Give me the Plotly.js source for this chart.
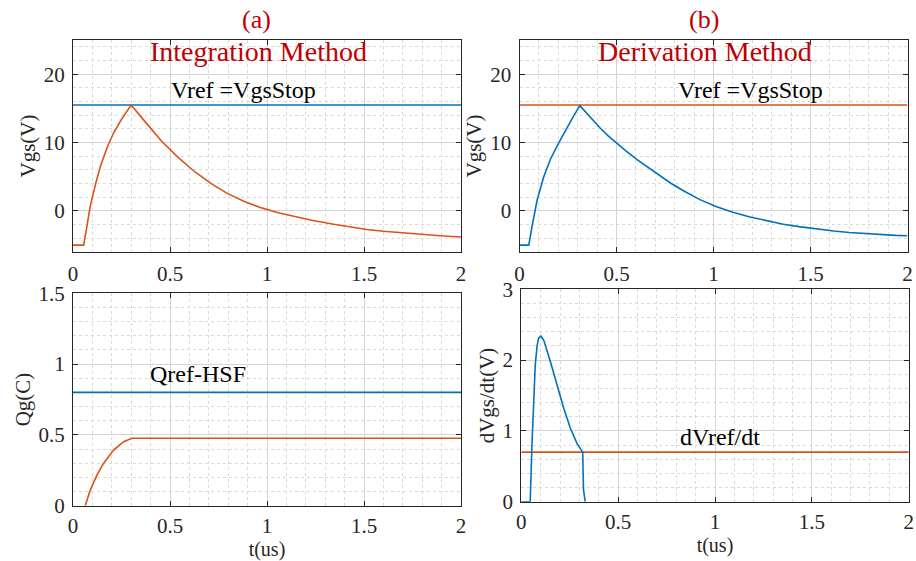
<!DOCTYPE html>
<html>
<head>
<meta charset="utf-8">
<script src="https://cdn.plot.ly/plotly-3.0.1.min.js"></script>
<style>html,body{margin:0;padding:0;background:#fff;}#chart{width:916px;height:561px;}</style>
</head>
<body>
<div id="chart"></div>
<script>
// ---- Data ----
// (a) Integration method: Vgs vs t
const tIntVgs = [0, 0.055, 0.069, 0.089, 0.115, 0.141, 0.175, 0.209, 0.252, 0.30, 0.37, 0.457, 0.543, 0.629, 0.714, 0.80, 0.886, 0.972, 1.058, 1.144, 1.23, 1.343, 1.43, 1.515, 1.60, 1.687, 1.773, 1.859, 1.93, 2.0];
const vIntVgs = [-5, -5, -2.7, 0.7, 3.8, 6.5, 9.2, 11.4, 13.5, 15.5, 13.1, 10.2, 7.8, 5.7, 3.95, 2.5, 1.35, 0.45, -0.25, -0.85, -1.35, -1.95, -2.35, -2.7, -2.97, -3.2, -3.4, -3.56, -3.69, -3.8];
// (b) Derivation method: Vgs vs t
const tDerVgs = [0, 0.048, 0.065, 0.091, 0.125, 0.16, 0.203, 0.246, 0.28, 0.311, 0.36, 0.417, 0.46, 0.503, 0.55, 0.606, 0.66, 0.709, 0.78, 0.845, 0.93, 1.016, 1.10, 1.188, 1.27, 1.36, 1.45, 1.53, 1.62, 1.70, 1.79, 1.87, 1.94, 2.0];
const vDerVgs = [-5, -5, -2.2, 1.6, 5.0, 7.6, 10.0, 12.25, 13.95, 15.4, 13.8, 12.1, 10.9, 9.85, 8.75, 7.5, 6.4, 5.45, 4.05, 2.95, 1.66, 0.63, -0.19, -0.89, -1.43, -1.93, -2.33, -2.63, -2.92, -3.14, -3.34, -3.48, -3.57, -3.63];
// Reference levels
const tRef = [0, 2];
const vRefStop = [15.5, 15.5];
const qRefHSF = [0.8, 0.8];
const dvRef = [0.7, 0.7];
// (a) gate charge Qg
const tQg = [0.063, 0.089, 0.124, 0.158, 0.209, 0.261, 0.304, 2.0];
const vQg = [0, 0.11, 0.217, 0.30, 0.393, 0.452, 0.476, 0.476];
// (b) dVgs/dt
const tDv = [0, 0.046, 0.055, 0.064, 0.072, 0.081, 0.089, 0.101, 0.116, 0.15, 0.184, 0.219, 0.253, 0.288, 0.317, 0.321, 0.33];
const vDv = [0, 0, 0.8, 1.5, 1.93, 2.19, 2.31, 2.34, 2.28, 1.98, 1.65, 1.32, 1.04, 0.82, 0.70, 0.17, 0];
// Labels
const panelLabels = ['(a)', '(b)'];
const methodTitles = ['Integration Method', 'Derivation Method'];
const yTitles = ['Vgs(V)', 'Vgs(V)', 'Qg(C)', 'dVgs/dt(V)'];
const xTitle = 't(us)';
const refLabels = ['Vref =VgsStop', 'Vref =VgsStop', 'Qref-HSF', 'dVref/dt'];

// ---- Styling ----
const BLUE = '#0072BD', ORANGE = '#D95319', RED = '#C00000';
const FONT = 'Liberation Serif, Times New Roman, serif';
const W = 916, H = 561;
const px = (a, b) => [a / W, b / W];
const py = (top, bottom) => [1 - bottom / H, 1 - top / H];

const lw = 1.6;
const traces = [
  {x: tRef, y: vRefStop, xaxis: 'x', yaxis: 'y', mode: 'lines', line: {color: BLUE, width: lw}},
  {x: tIntVgs, y: vIntVgs, xaxis: 'x', yaxis: 'y', mode: 'lines', line: {color: ORANGE, width: lw}},
  {x: tRef, y: vRefStop, xaxis: 'x2', yaxis: 'y2', mode: 'lines', line: {color: ORANGE, width: lw}},
  {x: tDerVgs, y: vDerVgs, xaxis: 'x2', yaxis: 'y2', mode: 'lines', line: {color: BLUE, width: lw}},
  {x: tRef, y: qRefHSF, xaxis: 'x3', yaxis: 'y3', mode: 'lines', line: {color: BLUE, width: lw}},
  {x: tQg, y: vQg, xaxis: 'x3', yaxis: 'y3', mode: 'lines', line: {color: ORANGE, width: lw}},
  {x: tRef, y: dvRef, xaxis: 'x4', yaxis: 'y4', mode: 'lines', line: {color: ORANGE, width: lw}},
  {x: tDv, y: vDv, xaxis: 'x4', yaxis: 'y4', mode: 'lines', line: {color: BLUE, width: lw}}
];

function axis(extra) {
  return Object.assign({
    showline: true, mirror: 'ticks', linecolor: '#262626', linewidth: 1,
    ticks: 'inside', ticklen: 5, tickcolor: '#262626', tickwidth: 1,
    showgrid: true, gridcolor: '#d4d4d4', gridwidth: 1, zeroline: false,
    tickfont: {family: FONT, size: 21, color: '#262626'},
    ticklabelstandoff: 3, automargin: false, fixedrange: true
  }, extra);
}
function minor(d) { return {dtick: d, showgrid: true, gridcolor: '#dadada', griddash: 'dot', gridwidth: 1, ticks: ''}; }
const xCommon = {range: [0, 2], tickmode: 'linear', tick0: 0, dtick: 0.5, minor: minor(0.1)};
const ytitle = (t) => ({text: t, font: {family: FONT, size: 21, color: '#262626'}, standoff: 2});
const xt = {text: xTitle, font: {family: FONT, size: 20, color: '#262626'}, standoff: 5};

const layout = {
  width: W, height: H, margin: {l: 0, r: 0, t: 0, b: 0},
  paper_bgcolor: '#fff', plot_bgcolor: '#fff', showlegend: false,
  font: {family: FONT},
  xaxis: axis(Object.assign({domain: px(73, 461), anchor: 'y'}, xCommon)),
  yaxis: axis({domain: py(40, 252), anchor: 'x', range: [-6, 25], tickmode: 'linear', tick0: 0, dtick: 10, minor: minor(2), title: ytitle(yTitles[0])}),
  xaxis2: axis(Object.assign({domain: px(519.5, 907.5), anchor: 'y2'}, xCommon)),
  yaxis2: axis({domain: py(40, 252), anchor: 'x2', range: [-6, 25], tickmode: 'linear', tick0: 0, dtick: 10, minor: minor(2), title: ytitle(yTitles[1])}),
  xaxis3: axis(Object.assign({domain: px(73, 461), anchor: 'y3', title: xt, ticklabelstandoff: 1}, xCommon)),
  yaxis3: axis({domain: py(293.3, 505.7), anchor: 'x3', range: [0, 1.5], tickmode: 'linear', tick0: 0, dtick: 0.5, minor: minor(0.1), title: ytitle(yTitles[2])}),
  xaxis4: axis(Object.assign({domain: px(521.3, 908.7), anchor: 'y4', title: xt, ticklabelstandoff: 1}, xCommon)),
  yaxis4: axis({domain: py(289.3, 501.7), anchor: 'x4', range: [0, 3], tickmode: 'linear', tick0: 0, dtick: 1, minor: minor(0.2), title: ytitle(yTitles[3])}),
  annotations: [
    {text: panelLabels[0], xref: 'paper', yref: 'paper', x: 256 / W, y: 1 - 20 / H, showarrow: false, xanchor: 'center', yanchor: 'middle', font: {family: FONT, size: 26, color: RED}},
    {text: panelLabels[1], xref: 'paper', yref: 'paper', x: 703.5 / W, y: 1 - 20 / H, showarrow: false, xanchor: 'center', yanchor: 'middle', font: {family: FONT, size: 26, color: RED}},
    {text: methodTitles[0], xref: 'paper', yref: 'paper', x: 258 / W, y: 1 - 52 / H, showarrow: false, xanchor: 'center', yanchor: 'middle', font: {family: FONT, size: 28, color: RED}},
    {text: methodTitles[1], xref: 'paper', yref: 'paper', x: 704.5 / W, y: 1 - 52 / H, showarrow: false, xanchor: 'center', yanchor: 'middle', font: {family: FONT, size: 28, color: RED}},
    {text: refLabels[0], xref: 'x', yref: 'y', x: 0.878, y: vRefStop[0], showarrow: false, xanchor: 'center', yanchor: 'bottom', font: {family: FONT, size: 24, color: '#000'}},
    {text: refLabels[1], xref: 'x2', yref: 'y2', x: 1.19, y: vRefStop[0], showarrow: false, xanchor: 'center', yanchor: 'bottom', font: {family: FONT, size: 24, color: '#000'}},
    {text: refLabels[2], xref: 'x3', yref: 'y3', x: 0.646, y: qRefHSF[0], showarrow: false, xanchor: 'center', yanchor: 'bottom', yshift: 3, font: {family: FONT, size: 24, color: '#000'}},
    {text: refLabels[3], xref: 'x4', yref: 'y4', x: 1.028, y: dvRef[0], showarrow: false, xanchor: 'center', yanchor: 'bottom', yshift: 0, font: {family: FONT, size: 24, color: '#000'}}
  ]
};

Plotly.newPlot('chart', traces, layout, {staticPlot: true, displayModeBar: false});
</script>
</body>
</html>
